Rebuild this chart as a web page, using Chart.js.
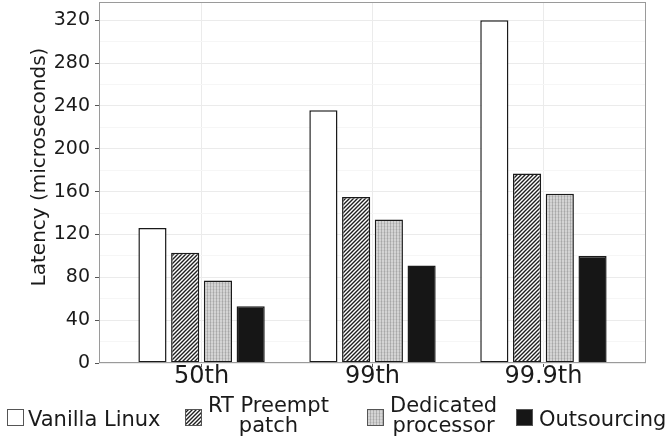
<!DOCTYPE html>
<html>
<head>
<meta charset="utf-8">
<script src="https://cdn.jsdelivr.net/npm/chart.js@4.4.1/dist/chart.umd.min.js"></script>
<style>
   body { margin: 0; background: #fff; }
   #wrap { position: relative; width: 670px; height: 439px; font-family: "DejaVu Sans"; color: #1a1a1a; }
   #latency_chart { position: absolute; left: 0; top: 0; }
   .swatch { position: absolute; }
   .lab { position: absolute; font-size: 21px; line-height: 20px; white-space: nowrap; text-align: center; }
</style>
</head>
<body>
<div id="wrap">
   <canvas id="latency_chart" width="670" height="439"></canvas>
</div>
<script>
// Chart data
const percentiles = ["50th", "99th", "99.9th"];
const seriesNames = [["Vanilla Linux"], ["RT Preempt", "patch"], ["Dedicated", "processor"], ["Outsourcing"]];
const vanillaLinux = [126, 236, 320];
const rtPreempt = [103, 155, 177];
const dedicatedProcessor = [77, 134, 158];
const outsourcing = [53, 91, 100];
const yTicks = [0, 40, 80, 120, 160, 200, 240, 280, 320];

const seriesValues = [vanillaLinux, rtPreempt, dedicatedProcessor, outsourcing];
const fillKinds = ["plain", "hatch", "dots", "solid"];
const FONT = "DejaVu Sans";

// Build a fill (colour or canvas pattern) for one series
function makeFill(ctx, kind) {
   if (kind === "plain") return "#ffffff";
   if (kind === "solid") return "#161616";
   const tile = document.createElement("canvas");
   const t = tile.getContext("2d");
   if (kind === "hatch") {
      tile.width = tile.height = 4;
      t.fillStyle = "#ffffff";
      t.fillRect(0, 0, 4, 4);
      t.strokeStyle = "#1e1e1e";
      t.lineWidth = 1.4;
      t.beginPath();
      t.moveTo(-1, 5); t.lineTo(5, -1);
      t.moveTo(-1, 1); t.lineTo(1, -1);
      t.moveTo(3, 5); t.lineTo(5, 3);
      t.stroke();
   } else {
      tile.width = tile.height = 3;
      t.fillStyle = "#d4d4d4";
      t.fillRect(0, 0, 3, 3);
      t.fillStyle = "#b2b2b2";
      t.fillRect(0, 0, 1, 3);
      t.fillStyle = "rgba(0,0,0,0.06)";
      t.fillRect(0, 1, 3, 1);
   }
   return ctx.createPattern(tile, "repeat");
}

// Panel border and y axis title
const panelFrame = {
   id: "panelFrame",
   afterDraw(chart) {
      const { ctx, chartArea: a } = chart;
      ctx.save();
      ctx.strokeStyle = "#9a9a9a";
      ctx.lineWidth = 1;
      ctx.strokeRect(a.left + 0.5, a.top + 0.5, a.width - 1, a.height - 1);
      ctx.translate(40, 167);
      ctx.rotate(-Math.PI / 2);
      ctx.fillStyle = "#1a1a1a";
      ctx.font = "20px '" + FONT + "'";
      ctx.textAlign = "center";
      ctx.textBaseline = "middle";
      ctx.fillText("Latency (microseconds)", 0, 0);
      ctx.restore();
   }
};

const canvas = document.querySelector("#latency_chart");
const ctx = canvas.getContext("2d");

const chart = new Chart(ctx, {
   type: "bar",
   data: {
      datasets: seriesValues.map((vals, i) => ({
         label: seriesNames[i].join(" "),
         data: vals.map((v, j) => ({ x: j, y: v })),
         backgroundColor: makeFill(ctx, fillKinds[i]),
         borderColor: "#1a1a1a",
         borderWidth: 1.5,
         borderSkipped: false,
         categoryPercentage: 0.766,
         barPercentage: 0.86
      }))
   },
   options: {
      responsive: false,
      animation: false,
      devicePixelRatio: 1,
      layout: { padding: { top: 2, right: 24, bottom: 40, left: 0 } },
      plugins: { legend: { display: false }, tooltip: { enabled: false } },
      scales: {
         x: {
            type: "linear",
            offset: false,
            min: -0.6,
            max: 2.6,
            afterBuildTicks: s => { s.ticks = percentiles.map((_, i) => ({ value: i })); },
            afterFit: s => { s.height = 36; s.paddingLeft = 0; s.paddingRight = 0; },
            ticks: {
               callback: v => percentiles[v],
               font: { family: FONT, size: 24, lineHeight: 1 },
               color: "#1a1a1a",
               padding: -2,
               maxRotation: 0,
               autoSkip: false
            },
            grid: { offset: false, color: "#ebebeb", tickColor: "#555", tickLength: 4 },
            border: { display: false }
         },
         y: {
            min: 0,
            max: 337,
            afterBuildTicks: s => {
               const t = [];
               yTicks.forEach(v => { t.push({ value: v }); if (v + 20 < 337) t.push({ value: v + 20 }); });
               s.ticks = t;
            },
            afterFit: s => { s.width = 99; s.paddingTop = 0; s.paddingBottom = 0; },
            ticks: {
               callback: v => yTicks.includes(v) ? String(v) : "",
               font: { family: FONT, size: 19 },
               color: "#1a1a1a",
               padding: 5,
               autoSkip: false
            },
            grid: {
               color: c => c.tick && c.tick.value % 40 === 0 ? "#ebebeb" : "#f6f6f6",
               tickColor: c => c.tick && c.tick.value % 40 === 0 ? "#555" : "rgba(0,0,0,0)",
               tickLength: 4
            },
            border: { display: false }
         }
      }
   },
   plugins: [panelFrame]
});

// Legend below the chart
const legendSlots = [
   { sw: 7, tx: 28, ty: 409 },
   { sw: 185, tx: 208, ty: 395 },
   { sw: 367, tx: 390, ty: 395 },
   { sw: 516, tx: 539, ty: 409 }
];
const wrap = document.querySelector("#wrap");
seriesNames.forEach((lines, i) => {
   const slot = legendSlots[i];
   const sw = document.createElement("canvas");
   sw.width = 17; sw.height = 17;
   sw.className = "swatch";
   sw.style.left = slot.sw + "px";
   sw.style.top = "409px";
   const sctx = sw.getContext("2d");
   sctx.fillStyle = makeFill(sctx, fillKinds[i]);
   sctx.fillRect(0, 0, 17, 17);
   sctx.strokeStyle = "#555";
   sctx.lineWidth = 1;
   sctx.strokeRect(0.5, 0.5, 16, 16);
   wrap.appendChild(sw);

   const lab = document.createElement("div");
   lab.className = "lab";
   lab.style.left = slot.tx + "px";
   lab.style.top = slot.ty + "px";
   lab.innerHTML = lines.join("<br>");
   wrap.appendChild(lab);
});
</script>
</body>
</html>
